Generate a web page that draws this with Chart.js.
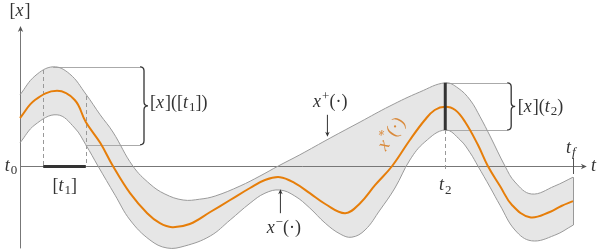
<!DOCTYPE html>
<html>
<head>
<meta charset="utf-8">
<script src="https://cdn.jsdelivr.net/npm/chart.js@4"></script>
<style>
  html, body { margin: 0; padding: 0; background: #fff; }
  #wrap { width: 600px; height: 250px; }
</style>
</head>
<body>
<div id="wrap"><canvas id="myChart" width="600" height="250"></canvas></div>
<script>
// upper bound x+(.)
var tUpper = [0, 0.27, 0.6, 0.9, 1.19, 1.45, 1.68, 2.04, 2.35, 2.62, 2.95, 3.25, 3.53, 3.98, 4.34, 4.67, 5.06, 5.61, 6.15, 6.69, 7.23, 7.69, 7.92, 8.14, 8.32, 8.5, 8.77, 8.95, 9.25, 9.67, 10];
var xUpper = [1.78, 2.25, 2.48, 2.3, 1.8, 1.28, 0.85, 0, -0.45, -0.7, -0.85, -0.83, -0.75, -0.5, -0.25, 0, 0.28, 0.7, 1.1, 1.5, 1.85, 2.08, 1.95, 1.65, 1.23, 0.75, 0, -0.4, -0.7, -0.5, -0.28];
// nominal x*(.)
var tMid = [0, 0.27, 0.67, 0.99, 1.19, 1.45, 1.68, 1.99, 2.3, 2.53, 2.75, 3.07, 3.44, 3.8, 4.16, 4.43, 4.7, 4.97, 5.24, 5.52, 5.88, 6.15, 6.42, 6.73, 7.05, 7.32, 7.5, 7.69, 7.87, 8.05, 8.28, 8.46, 8.68, 8.9, 9.22, 9.58, 9.79, 10];
var xMid = [1.2, 1.65, 1.88, 1.65, 1.1, 0.58, 0, -0.68, -1.18, -1.43, -1.53, -1.45, -1.15, -0.85, -0.55, -0.35, -0.28, -0.43, -0.68, -0.95, -1.18, -0.93, -0.48, 0, 0.65, 1.15, 1.4, 1.48, 1.4, 1.1, 0.53, 0, -0.5, -0.98, -1.28, -1.15, -1, -0.88];
// lower bound x-(.)
var tLower = [0, 0.27, 0.67, 0.99, 1.19, 1.41, 1.72, 1.99, 2.35, 2.66, 2.98, 3.44, 3.8, 4.16, 4.43, 4.7, 4.97, 5.24, 5.52, 5.79, 6, 6.24, 6.51, 6.78, 7.05, 7.32, 7.69, 7.96, 8.14, 8.28, 8.5, 8.68, 8.95, 9.25, 9.67, 10];
var xLower = [0.58, 1.03, 1.28, 0.95, 0.53, 0, -0.73, -1.35, -1.85, -2.05, -2, -1.75, -1.35, -0.93, -0.68, -0.6, -0.75, -1.05, -1.43, -1.7, -1.78, -1.6, -1.1, -0.55, 0.15, 0.6, 0.9, 0.65, 0.33, 0, -0.53, -0.98, -1.6, -1.87, -1.73, -1.48];

// marked times
var t1 = [0.42, 1.19];
var t2 = 7.69;
var tf = 10;

function pts(ts, xs) {
  var out = [];
  for (var i = 0; i < ts.length; i++) out.push({x: ts[i], y: xs[i]});
  return out;
}

var FONT = '"Liberation Serif", "Times New Roman", serif';
var INK = '#333';

// parts: [text, kind]  r roman, i italic, sr/si subscript, pr superscript
function mathText(ctx, parts, x, y, size, align, color) {
  var small = Math.round(size * 0.72);
  var fonts = {
    r: size + 'px ' + FONT,
    i: 'italic ' + size + 'px ' + FONT,
    sr: small + 'px ' + FONT,
    si: 'italic ' + small + 'px ' + FONT,
    pr: small + 'px ' + FONT
  };
  var w = 0;
  for (var i = 0; i < parts.length; i++) {
    ctx.font = fonts[parts[i][1]];
    w += ctx.measureText(parts[i][0]).width + (parts[i][1] == 'i' ? 1 : 0);
  }
  var cx = align == 'center' ? x - w / 2 : (align == 'right' ? x - w : x);
  ctx.fillStyle = color || INK;
  ctx.textBaseline = 'middle';
  ctx.textAlign = 'left';
  for (var j = 0; j < parts.length; j++) {
    var k = parts[j][1];
    ctx.font = fonts[k];
    var dy = 0;
    if (k == 'sr' || k == 'si') dy = size * 0.28;
    if (k == 'pr') dy = -size * 0.32;
    ctx.fillText(parts[j][0], cx, y + dy);
    cx += ctx.measureText(parts[j][0]).width + (k == 'i' ? 1 : 0);
  }
}

function brace(ctx, x, yTop, yBot, w) {
  var ym = (yTop + yBot) / 2, q = w / 2;
  ctx.beginPath();
  ctx.moveTo(x, yTop);
  ctx.quadraticCurveTo(x + q, yTop, x + q, yTop + q);
  ctx.lineTo(x + q, ym - q);
  ctx.quadraticCurveTo(x + q, ym, x + w, ym);
  ctx.quadraticCurveTo(x + q, ym, x + q, ym + q);
  ctx.lineTo(x + q, yBot - q);
  ctx.quadraticCurveTo(x + q, yBot, x, yBot);
  ctx.stroke();
}

function arrowHead(ctx, x, y, ang, len, color) {
  ctx.save();
  ctx.translate(x, y);
  ctx.rotate(ang);
  ctx.fillStyle = color;
  ctx.beginPath();
  ctx.moveTo(0, 0);
  ctx.lineTo(-len, -len * 0.45);
  ctx.lineTo(-len * 0.7, 0);
  ctx.lineTo(-len, len * 0.45);
  ctx.closePath();
  ctx.fill();
  ctx.restore();
}

function line(ctx, x1, y1, x2, y2, color, width, dash) {
  ctx.save();
  ctx.strokeStyle = color;
  ctx.lineWidth = width;
  ctx.setLineDash(dash || []);
  ctx.beginPath();
  ctx.moveTo(x1, y1);
  ctx.lineTo(x2, y2);
  ctx.stroke();
  ctx.restore();
}

var axesPlugin = {
  id: 'axesPlugin',
  beforeDatasetsDraw: function(chart) {
    var ctx = chart.ctx, sx = chart.scales.x, sy = chart.scales.y;
    var X = function(v) { return sx.getPixelForValue(v); };
    var Y = function(v) { return sy.getPixelForValue(v); };
    var ax = Math.round(X(0)) + 0.5, ay = Math.round(Y(0)) + 0.5;
    // axes
    line(ctx, ax, Y(-2.06), ax, Y(3.45), '#777', 1);
    arrowHead(ctx, ax, Y(3.5), -Math.PI / 2, 6, '#555');
    line(ctx, ax, ay, X(10.2), ay, '#777', 1);
    arrowHead(ctx, X(10.25), ay, 0, 6, '#555');
    // dashed guides for [t1]
    line(ctx, Math.round(X(t1[0])) + 0.5, Y(2.4), Math.round(X(t1[0])) + 0.5, ay, '#999', 1, [4, 3]);
    line(ctx, Math.round(X(t1[1])) + 0.5, Y(1.75), Math.round(X(t1[1])) + 0.5, ay, '#999', 1, [4, 3]);
    // dashed for t2
    line(ctx, Math.round(X(t2)) + 0.5, Y(0.9), Math.round(X(t2)) + 0.5, Y(-0.15), '#999', 1, [4, 3]);
    // bracket guide lines
    line(ctx, X(0.6), Math.round(Y(2.48)) + 0.5, X(2.17), Math.round(Y(2.48)) + 0.5, '#aaa', 1);
    line(ctx, X(1.19), Math.round(Y(0.53)) + 0.5, X(2.17), Math.round(Y(0.53)) + 0.5, '#aaa', 1);
    line(ctx, X(t2), Math.round(Y(2.08)) + 0.5, X(8.81), Math.round(Y(2.08)) + 0.5, '#aaa', 1);
    line(ctx, X(t2), Math.round(Y(0.9)) + 0.5, X(8.81), Math.round(Y(0.9)) + 0.5, '#aaa', 1);
    // tf end line
    line(ctx, Math.round(X(tf)) + 0.5, Y(-0.28), Math.round(X(tf)) + 0.5, Y(-1.48), '#999', 1);
  },
  afterDatasetsDraw: function(chart) {
    var ctx = chart.ctx, sx = chart.scales.x, sy = chart.scales.y;
    var X = function(v) { return sx.getPixelForValue(v); };
    var Y = function(v) { return sy.getPixelForValue(v); };
    var ay = Math.round(Y(0)) + 0.5;
    // [t1] interval and [x](t2) bar
    line(ctx, X(t1[0]), ay, X(t1[1]), ay, '#333', 3);
    line(ctx, X(t2), Y(2.08), X(t2), Y(0.9), '#333', 3);
    line(ctx, Math.round(X(tf)) + 0.5, Y(0.2), Math.round(X(tf)) + 0.5, Y(-0.2), '#555', 1);
    // braces
    ctx.save();
    ctx.strokeStyle = '#333';
    ctx.lineWidth = 1.3;
    brace(ctx, X(2.17), Y(2.48), Y(0.53), 8);
    brace(ctx, X(8.81), Y(2.08), Y(0.9), 8);
    ctx.restore();
    // label arrows
    line(ctx, X(5.55) + 0.5, Y(1.28), X(5.55) + 0.5, Y(0.8), '#333', 1);
    arrowHead(ctx, X(5.55) + 0.5, Y(0.73), Math.PI / 2, 5, '#333');
    line(ctx, X(4.7) + 0.5, Y(-1.18), X(4.7) + 0.5, Y(-0.66), '#333', 1);
    arrowHead(ctx, X(4.7) + 0.5, Y(-0.58), -Math.PI / 2, 5, '#333');

    var S = 18;
    mathText(ctx, [['[', 'r'], ['x', 'i'], [']', 'r']], X(0), 11, S, 'center');
    mathText(ctx, [['t', 'i'], ['0', 'sr']], X(-0.05), Y(0), S, 'right');
    mathText(ctx, [['[', 'r'], ['t', 'i'], ['1', 'sr'], [']', 'r']], X(0.81), Y(-0.5), S, 'center');
    mathText(ctx, [['t', 'i'], ['2', 'sr']], X(t2), Y(-0.48), S, 'center');
    mathText(ctx, [['t', 'i']], X(10.38), Y(0), S, 'center');
    mathText(ctx, [['t', 'i'], ['f', 'si']], X(9.96), Y(0.45), S, 'center');
    mathText(ctx, [['[', 'r'], ['x', 'i'], [']([', 'r'], ['t', 'i'], ['1', 'sr'], ['])', 'r']], X(2.35), Y(1.58), S, 'left');
    mathText(ctx, [['[', 'r'], ['x', 'i'], ['](', 'r'], ['t', 'i'], ['2', 'sr'], [')', 'r']], X(9.0), Y(1.48), S, 'left');
    mathText(ctx, [['x', 'i'], ['+', 'pr'], ['(\u00b7)', 'r']], X(5.61), Y(1.6), S, 'center');
    mathText(ctx, [['x', 'i'], ['\u2212', 'pr'], ['(\u00b7)', 'r']], X(4.77), Y(-1.55), S, 'center');
    ctx.save();
    ctx.translate(X(6.72), Y(0.8));
    ctx.rotate(-56 * Math.PI / 180);
    mathText(ctx, [['x', 'i'], ['*', 'pr'], ['(\u00b7)', 'r']], 0, 0, 19, 'center', '#d9893a');
    ctx.restore();
  }
};

function init() {
  var ctx = document.getElementById('myChart');
  var chart = new Chart(ctx, {
    type: 'line',
    data: {
      datasets: [{
        label: 'x+',
        data: pts(tUpper, xUpper),
        borderColor: '#9a9a9a',
        borderWidth: 1,
        backgroundColor: '#e6e6e6',
        fill: '+1',
        order: 1
      }, {
        label: 'x-',
        data: pts(tLower, xLower),
        borderColor: '#9a9a9a',
        borderWidth: 1,
        fill: false,
        order: 1
      }, {
        label: 'x*',
        data: pts(tMid, xMid),
        borderColor: '#e67e0a',
        borderWidth: 2,
        fill: false,
        order: 0
      }]
    },
    options: {
      responsive: false,
      animation: false,
      devicePixelRatio: 1,
      layout: { padding: 0 },
      elements: {
        point: { radius: 0, hoverRadius: 0 },
        line: { tension: 0.4 }
      },
      scales: {
        x: { type: 'linear', min: -20 / 55.3, max: 580 / 55.3, display: false },
        y: { type: 'linear', min: -2.1, max: 4.15, display: false }
      },
      plugins: {
        legend: { display: false },
        tooltip: { enabled: false },
        filler: { drawTime: 'beforeDraw' }
      },
      events: []
    },
    plugins: [axesPlugin]
  });
}

init();
</script>
</body>
</html>
